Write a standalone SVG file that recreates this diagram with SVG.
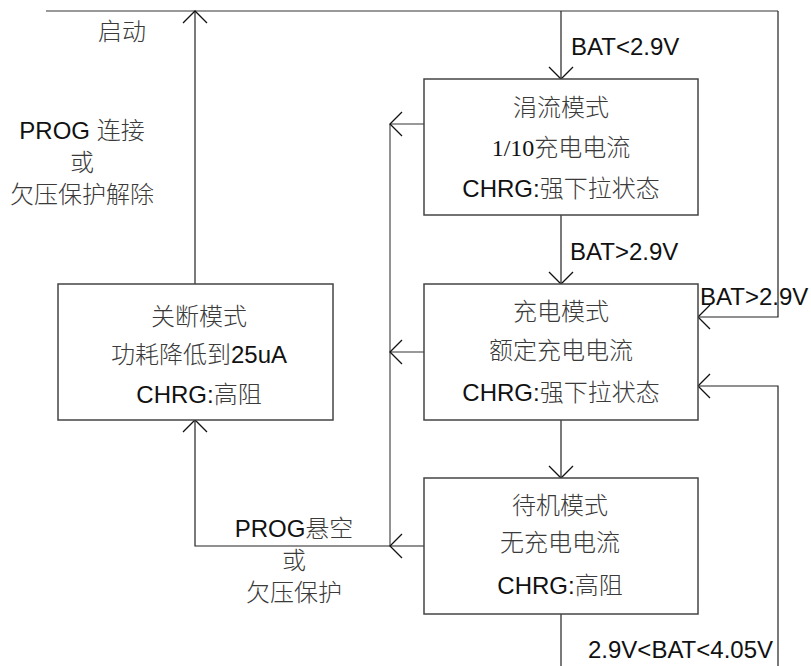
<svg xmlns="http://www.w3.org/2000/svg" width="811" height="666" viewBox="0 0 811 666">
<style>
  .box { fill: #ffffff; stroke: #444444; stroke-width: 1.5; }
  .ln { fill: none; stroke: #222222; stroke-width: 1.2; }
  .gl { fill: none; stroke: #777777; stroke-width: 1.6; }
  text { font-family: "Liberation Sans", "Noto Sans CJK SC", sans-serif; font-size: 24px; fill: #111111; }
  .c { text-anchor: middle; }
  .serif { font-family: "Liberation Serif", "Noto Sans CJK SC", serif; }
  .cj { font-family: "Noto Sans CJK SC", sans-serif; font-weight: 300; fill: #3a3a3a; }
</style>
<defs>
  <marker id="arr" markerUnits="userSpaceOnUse" markerWidth="30" markerHeight="30" refX="0" refY="0" orient="auto" overflow="visible" viewBox="-15 -15 30 30">
    <path d="M -12,-12 L 0,0 L -12,12" fill="none" stroke="#111111" stroke-width="1.3"/>
  </marker>
</defs>
<rect width="811" height="666" fill="#ffffff"/>
<g id="connectors">
  <path class="gl" d="M46,11 L778,11"/>
  <path class="ln" d="M195,284 L195,11" marker-end="url(#arr)"/>
  <path class="ln" d="M561,11 L561,79" marker-end="url(#arr)"/>
  <path class="ln" d="M778,11 L778,317 L698,317" marker-end="url(#arr)"/>
  <path class="ln" d="M561,215 L561,284" marker-end="url(#arr)"/>
  <path class="ln" d="M561,420 L561,478" marker-end="url(#arr)"/>
  <path class="ln" d="M561,614 L561,666"/>
  <path class="ln" d="M778,666 L778,386 L698,386" marker-end="url(#arr)"/>
  <path class="gl" d="M390,124 L390,546"/>
  <path class="gl" d="M424,124 L390,124" marker-end="url(#arr)"/>
  <path class="gl" d="M424,352 L390,352" marker-end="url(#arr)"/>
  <path class="ln" d="M424,546 L390,546" marker-end="url(#arr)"/>
  <path class="ln" d="M390,546 L195,546 L195,420" marker-end="url(#arr)"/>
  <text x="122" y="40" class="c cj">启动</text>
  <text x="82" y="139" class="c">PROG <tspan class="cj">连接</tspan></text>
  <text x="82" y="171" class="c cj">或</text>
  <text x="82" y="203" class="c cj">欠压保护解除</text>
  <text x="571" y="55">BAT&lt;2.9V</text>
  <text x="570" y="260">BAT&gt;2.9V</text>
  <text x="700" y="305">BAT&gt;2.9V</text>
  <text x="588" y="658">2.9V&lt;BAT&lt;4.05V</text>
  <text x="294" y="537" class="c">PROG<tspan class="cj">悬空</tspan></text>
  <text x="294" y="569" class="c cj">或</text>
  <text x="294" y="601" class="c cj">欠压保护</text>
</g>
<g id="trickle">
  <rect class="box" x="424" y="79" width="274" height="136"/>
  <text x="561" y="116" class="c cj">涓流模式</text>
  <text x="561" y="156" class="c"><tspan class="serif">1/10</tspan><tspan class="cj">充电电流</tspan></text>
  <text x="561" y="197" class="c">CHRG:<tspan class="cj">强下拉状态</tspan></text>
</g>
<g id="charge">
  <rect class="box" x="424" y="284" width="274" height="136"/>
  <text x="561" y="320" class="c cj">充电模式</text>
  <text x="561" y="359" class="c cj">额定充电电流</text>
  <text x="561" y="401" class="c">CHRG:<tspan class="cj">强下拉状态</tspan></text>
</g>
<g id="standby">
  <rect class="box" x="424" y="478" width="274" height="136"/>
  <text x="560" y="514" class="c cj">待机模式</text>
  <text x="560" y="551" class="c cj">无充电电流</text>
  <text x="560" y="594" class="c">CHRG:<tspan class="cj">高阻</tspan></text>
</g>
<g id="shutdown">
  <rect class="box" x="58" y="284" width="275" height="136"/>
  <text x="199" y="325" class="c cj">关断模式</text>
  <text x="199" y="363" class="c"><tspan class="cj">功耗降低到</tspan>25uA</text>
  <text x="199" y="403" class="c">CHRG:<tspan class="cj">高阻</tspan></text>
</g>
</svg>
